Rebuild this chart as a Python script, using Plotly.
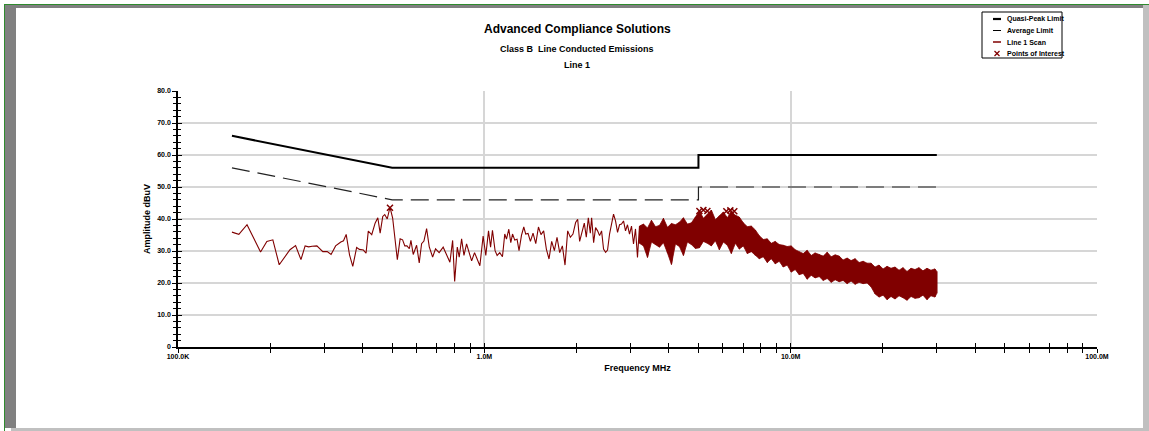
import plotly.graph_objects as go

# ---------------- data ----------------
qp_f = [0.15, 0.5, 5.0, 5.0, 30.0]
qp_v = [66.0, 56.0, 56.0, 60.0, 60.0]
avg_f = [0.15, 0.5, 5.0, 5.0, 30.0]
avg_v = [56.0, 46.0, 46.0, 50.0, 50.0]

scan_f = [0.150,0.158,0.168,0.186,0.195,0.204,0.214,0.232,0.242,0.252,
          0.260,0.267,0.274,0.284,0.297,0.307,0.316,0.327,0.340,0.347,
          0.354,0.363,0.372,0.383,0.391,0.403,0.411,0.418,0.429,0.440,
          0.449,0.457,0.466,0.473,0.482,0.492,0.502,0.511,0.520,0.531,
          0.541,0.550,0.559,0.569,0.576,0.586,0.601,0.613,0.624,0.635,
          0.648,0.661,0.678,0.693,0.712,0.734,0.753,0.772,0.788,0.800,
          0.816,0.828,0.843,0.858,0.875,0.892,0.909,0.929,0.947,0.967,
          0.991,1.011,1.032,1.048,1.063,1.084,1.101,1.123,1.146,1.166,
          1.181,1.202,1.220,1.236,1.257,1.279,1.298,1.322,1.345,1.365,
          1.389,1.414,1.442,1.472,1.502,1.531,1.562,1.594,1.626,1.659,
          1.693,1.727,1.762,1.798,1.834,1.871,1.909,1.947,1.986,2.017,
          2.047,2.089,2.120,2.152,2.185,2.218,2.240,2.274,2.308,2.343,
          2.378,2.414,2.450,2.488,2.525,2.563,2.602,2.641,2.681,2.722,
          2.763,2.804,2.847,2.890,2.933,2.978,3.023,3.069,3.115,3.162]
scan_v = [35.9,35.2,38.2,29.7,33.0,33.5,25.7,30.4,31.7,27.3,
          31.6,31.3,31.5,31.6,29.8,29.8,28.9,31.6,32.8,33.2,
          35.2,28.8,25.2,31.1,30.5,30.3,29.3,36.2,35.1,38.7,
          40.4,35.6,40.8,41.4,40.0,43.7,40.3,34.3,27.3,33.8,
          33.5,31.6,31.6,30.7,33.3,28.9,31.8,26.3,32.3,33.1,
          37.0,31.3,28.1,30.7,29.5,31.2,28.9,26.5,33.3,20.5,
          31.2,28.1,33.8,28.6,32.2,29.3,26.9,29.5,27.7,25.4,
          34.7,28.6,36.3,31.2,36.5,30.1,28.6,29.5,28.2,35.3,
          33.7,36.8,32.6,35.3,33.4,33.7,30.1,34.9,37.5,35.3,
          35.5,33.0,35.6,32.3,37.5,35.1,36.3,30.6,27.5,33.0,
          30.1,34.3,29.5,31.6,25.6,36.3,34.3,35.3,38.9,39.9,
          33.0,36.7,38.7,34.3,40.4,35.6,40.4,32.6,37.3,36.3,
          34.8,36.3,30.6,29.6,30.3,35.3,38.4,41.5,39.4,35.8,
          38.2,38.4,39.4,36.3,38.2,35.3,37.8,32.2,36.9,28.0]

# dense part of the scan: max / min per frequency slot
dense_f = [3.210,3.308,3.409,3.513,3.620,3.730,3.844,3.961,4.082,4.206,4.334,4.466,4.602,4.742,4.887,
           5.036,5.189,5.347,5.510,5.678,5.851,6.029,6.213,6.402,6.597,6.798,7.005,7.219,7.438,7.665,
           7.898,8.139,8.387,8.642,8.905,9.177,9.456,9.744,10.04,10.35,
           10.66,10.99,11.32,11.67,12.02,12.39,12.77,13.16,13.56,13.97,
           14.40,14.83,15.29,15.75,16.23,16.73,17.24,17.76,
           18.30,18.86,19.43,20.03,20.64,21.26,
           21.91,22.58,23.27,23.98,24.71,25.46,
           26.23,27.03,27.86,28.70,29.58,
           30.0]
dense_hi = [37.8,38.4,37.2,39.6,37.6,38.0,40.2,37.4,38.6,38.2,39.0,40.4,38.4,38.8,40.6,
            42.6,40.2,41.4,42.8,39.8,41.0,42.2,40.4,42.4,41.2,40.6,38.8,37.6,37.8,36.6,
            34.8,33.6,33.8,32.4,33.0,32.0,31.8,31.4,31.6,30.4,
            29.8,29.2,30.2,28.6,29.4,29.0,28.4,29.6,28.2,28.8,
            28.4,27.2,27.8,27.0,27.6,26.4,26.8,26.2,
            26.2,25.0,25.6,24.4,25.2,24.6,
            25.0,24.0,24.8,23.6,24.6,24.2,
            24.8,23.8,24.6,24.0,24.4,
            23.6]
dense_lo = [32.4,31.6,28.0,32.8,32.0,31.2,32.6,29.4,25.8,32.2,31.4,28.6,32.8,32.0,30.8,
            31.0,33.0,32.4,31.6,33.2,30.4,32.8,31.8,29.2,32.4,30.6,31.6,29.2,29.8,28.6,
            27.6,28.2,26.4,27.6,26.0,26.8,25.0,25.6,23.4,24.2,
            22.6,23.0,21.2,22.4,21.6,22.0,20.8,21.4,20.2,21.0,
            20.4,20.8,19.8,20.6,19.6,20.2,19.8,20.0,
            18.8,16.6,15.6,16.2,14.8,15.8,
            15.0,16.0,15.4,14.6,15.8,15.2,
            15.4,16.2,14.8,16.0,15.6,
            16.8]

poi_f = [0.492, 5.036, 5.189, 5.347, 6.166, 6.354, 6.547]
poi_v = [43.5, 42.5, 42.8, 42.5, 42.4, 42.7, 42.4]

x_tickvals = [0.1, 1, 10, 100]
x_ticktext = ["100.0K", "1.0M", "10.0M", "100.0M"]
y_tickvals = [0, 10, 20, 30, 40, 50, 60, 70, 80]
y_ticktext = ["0", "10.0", "20.0", "30.0", "40.0", "50.0", "60.0", "70.0", "80.0"]
x_minor = [0.2,0.3,0.4,0.5,0.6,0.7,0.8,0.9, 2,3,4,5,6,7,8,9, 20,30,40,50,60,70,80,90]

legend_names = ["Quasi-Peak Limit", "Average Limit", "Line 1 Scan", "Points of Interest"]

# ---------------- geometry ----------------
W, H = 1149, 431
L, R, T, B = 178, 1097, 91, 347
def px(x):
    return (x - L) / (R - L)
def py(y):
    return (B - y) / (B - T)

SCAN = "#800000"
FONT = "Liberation Sans, Arial, sans-serif"

fig = go.Figure()

fig.add_trace(go.Scatter(x=qp_f, y=qp_v, mode="lines", name=legend_names[0],
                         line=dict(color="black", width=2)))
fig.add_trace(go.Scatter(x=avg_f, y=avg_v, mode="lines", name=legend_names[1],
                         line=dict(color="#222222", width=1.2, dash="18px,8px")))
# filled envelope of the dense scan region
fig.add_trace(go.Scatter(x=dense_f + dense_f[::-1], y=dense_hi + dense_lo[::-1],
                         mode="lines", fill="toself", fillcolor=SCAN,
                         line=dict(color=SCAN, width=0.8), showlegend=False,
                         hoverinfo="skip"))
sx = list(scan_f)
sy = list(scan_v)
for f, h, l in zip(dense_f, dense_hi, dense_lo):
    sx += [f, f]
    sy += [h, l]
fig.add_trace(go.Scatter(x=sx, y=sy, mode="lines", name=legend_names[2],
                         line=dict(color=SCAN, width=1.1)))
fig.add_trace(go.Scatter(x=poi_f, y=poi_v, mode="markers", name=legend_names[3],
                         marker=dict(symbol="x-thin", size=6,
                                     line=dict(width=1.5, color=SCAN))))

# invisible trace carrying overlay axes (ticks that cross the axis lines)
fig.add_trace(go.Scatter(x=[0.1, 100], y=[0, 80], xaxis="x2", yaxis="y2",
                         mode="markers", marker=dict(opacity=0), showlegend=False,
                         hoverinfo="skip"))

axis_tickfont = dict(family=FONT, size=7, color="black", weight="bold")
fig.update_layout(
    width=W, height=H,
    margin=dict(l=L, r=W - R, t=T, b=H - B),
    paper_bgcolor="white", plot_bgcolor="white",
    font=dict(family=FONT, color="black"),
    showlegend=False,
    xaxis=dict(type="log", range=[-1, 2], tickmode="array",
               tickvals=x_tickvals, ticktext=x_ticktext, tickfont=axis_tickfont,
               ticks="outside", ticklen=4, tickwidth=1, tickcolor="black",
               ticklabelstandoff=-2,
               minor=dict(tickmode="array", tickvals=x_minor, ticks="outside",
                          ticklen=4, tickwidth=1, tickcolor="black", showgrid=False),
               showgrid=True, gridcolor="#d6d6d6", gridwidth=1.5,
               showline=True, linecolor="black", linewidth=2, zeroline=False,
               title=dict(text="Frequency MHz", standoff=5,
                          font=dict(family=FONT, size=9, weight="bold"))),
    yaxis=dict(range=[0, 80], tickmode="array", tickvals=y_tickvals, ticktext=y_ticktext,
               tickfont=axis_tickfont,
               ticks="outside", ticklen=4, tickwidth=1.2, tickcolor="black",
               minor=dict(dtick=2, ticks="outside", ticklen=3, tickwidth=1,
                          tickcolor="black", showgrid=False),
               showgrid=True, gridcolor="#d6d6d6", gridwidth=1.5,
               showline=True, linecolor="black", linewidth=1.5, zeroline=False,
               title=dict(text="Amplitude dBuV", standoff=5,
                          font=dict(family=FONT, size=9, weight="bold"))),
    xaxis2=dict(type="log", range=[-1, 2], overlaying="x", anchor="y2", side="bottom",
                tickmode="array", tickvals=x_tickvals, showticklabels=False,
                ticks="inside", ticklen=4, tickwidth=1, tickcolor="black",
                minor=dict(tickmode="array", tickvals=x_minor, ticks="inside",
                           ticklen=4, tickwidth=1, tickcolor="black", showgrid=False),
                showgrid=False, showline=False, zeroline=False),
    yaxis2=dict(range=[0, 80], overlaying="y", anchor="x2", side="left",
                tickmode="array", tickvals=y_tickvals, showticklabels=False,
                ticks="inside", ticklen=4, tickwidth=1.2, tickcolor="black",
                minor=dict(dtick=2, ticks="inside", ticklen=3, tickwidth=1,
                           tickcolor="black", showgrid=False),
                showgrid=False, showline=False, zeroline=False),
)

# titles
titles = [("Advanced Compliance Solutions", 29, 12),
          ("Class B  Line Conducted Emissions", 49, 9),
          ("Line 1", 65, 9)]
for txt, yy, sz in titles:
    fig.add_annotation(text=txt, x=px(577), y=py(yy), xref="paper", yref="paper",
                       xanchor="center", yanchor="middle", showarrow=False,
                       font=dict(family=FONT, size=sz, weight="bold", color="black"))

# legend box (compact, as in the original)
fig.add_shape(type="rect", xref="paper", yref="paper",
              x0=px(982), x1=px(1062), y0=py(58), y1=py(12),
              line=dict(color="black", width=1), fillcolor="white", layer="above")
rows = [19, 30.5, 42, 53.5]
samples = [("black", 2.2), ("black", 1), (SCAN, 1.5)]
for (c, w), yy in zip(samples, rows[:3]):
    fig.add_shape(type="line", xref="paper", yref="paper",
                  x0=px(993), x1=px(1001), y0=py(yy), y1=py(yy),
                  line=dict(color=c, width=w), layer="above")
for dx0, dx1, dy0, dy1 in [(994.5, 999.5, 51, 56), (994.5, 999.5, 56, 51)]:
    fig.add_shape(type="line", xref="paper", yref="paper",
                  x0=px(dx0), x1=px(dx1), y0=py(dy0), y1=py(dy1),
                  line=dict(color=SCAN, width=1.2), layer="above")
for name, yy in zip(legend_names, rows):
    fig.add_annotation(text=name, x=px(1005), y=py(yy), xref="paper", yref="paper",
                       xanchor="left", yanchor="middle", showarrow=False,
                       font=dict(family=FONT, size=7, weight="bold", color="black"))

# window frame (3D border)
frame = [
    (4, 4, 1149, 5, "#2e8b2e"),
    (4, 4, 5, 431, "#2e8b2e"),
    (5, 5, 1143, 8, "#808080"),
    (5, 5, 16, 428, "#808080"),
    (1143, 5, 1149, 431, "#c0c0c0"),
    (11, 428, 1149, 431, "#c0c0c0"),
]
for x0, y0, x1, y1, c in frame:
    fig.add_shape(type="rect", xref="paper", yref="paper",
                  x0=px(x0), x1=px(x1), y0=py(y0), y1=py(y1),
                  line=dict(width=0), fillcolor=c, layer="above")

fig.write_html("out.html", config={"displayModeBar": False},
               post_script="document.body.style.margin='0';")
